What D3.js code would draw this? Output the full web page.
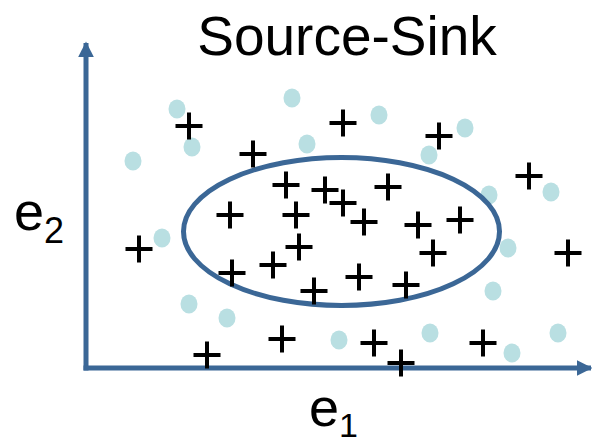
<!DOCTYPE html>
<html>
<head>
<meta charset="utf-8">
<script src="https://cdn.jsdelivr.net/npm/d3@7"></script>
<style>
  body { margin: 0; background: #fff; }
  svg { display: block; }
</style>
</head>
<body>
<svg id="drawing_region"></svg>
<script>
// sink points (+) in e1/e2 units
const sinkX = [20.6, 33.4, 51.4, 70.6, 88.6, 40, 47.8, 60.4, 51.4, 28.8, 42, 55.6, 66.4, 74.8,
               10.6, 42.6, 69.4, 96.4, 29.2, 37.4, 45.6, 54.6, 64, 39.2, 24.2, 57.6, 79.4, 63];
const sinkY = [48.4, 42.8, 49, 46.4, 38.4, 36.6, 35.6, 36.2, 33, 30.6, 30.6, 29.2, 28.6, 29.6,
               23.8, 24.2, 23, 23, 19, 20.6, 15.4, 18.2, 16.6, 5.8, 2.6, 5, 5, 1];
// source points (dots)
const sourceX = [18.2, 21.2, 9.4, 41.2, 44.2, 58.6, 75.8, 68.6, 93, 80.6, 15.2, 20.6, 28.2,
                 50.6, 84.4, 81.4, 68.8, 85.2, 94.4];
const sourceY = [51.8, 44.2, 41.4, 54, 44.8, 50.6, 48, 42.6, 35.2, 34.6, 26, 12.8, 10,
                 5.6, 24, 15.4, 7, 3, 7];
// ellipse: center and radii
const ellipseCenter = [51.1, 27.3];
const ellipseRadii = [31.6, 14.8];

const title = "Source-Sink";

const config = {
    width: 592,
    height: 445,
    axisColor: '#3b6796',
    dotColor: '#b9dfe2'
};

const svg = d3.select('#drawing_region')
    .attr('width', config.width)
    .attr('height', config.height);

const xscale = d3.scaleLinear().domain([0, 100]).range([86, 586]);
const yscale = d3.scaleLinear().domain([0, 65]).range([368, 43]);

// arrow head
svg.append('defs').append('marker')
    .attr('id', 'arrow')
    .attr('viewBox', '0 0 10 10')
    .attr('refX', 9).attr('refY', 5)
    .attr('markerWidth', 3.2).attr('markerHeight', 3.4)
    .attr('markerUnits', 'strokeWidth')
    .attr('orient', 'auto')
    .append('path')
    .attr('d', 'M0,0 L10,5 L0,10 Z')
    .attr('fill', config.axisColor);

// axes
svg.append('line')
    .attr('x1', xscale(0)).attr('y1', yscale(0) + 2.5)
    .attr('x2', xscale(0)).attr('y2', yscale(65))
    .attr('stroke', config.axisColor).attr('stroke-width', 5)
    .attr('marker-end', 'url(#arrow)');

svg.append('line')
    .attr('x1', xscale(0) - 2.5).attr('y1', yscale(0))
    .attr('x2', xscale(100) + 5).attr('y2', yscale(0))
    .attr('stroke', config.axisColor).attr('stroke-width', 5)
    .attr('marker-end', 'url(#arrow)');

// source dots
svg.append('g').selectAll('ellipse')
    .data(d3.range(sourceX.length))
    .enter()
    .append('ellipse')
    .attr('cx', i => xscale(sourceX[i]))
    .attr('cy', i => yscale(sourceY[i]))
    .attr('rx', 8.5)
    .attr('ry', 9.5)
    .attr('fill', config.dotColor);

// sink region
svg.append('ellipse')
    .attr('cx', xscale(ellipseCenter[0]))
    .attr('cy', yscale(ellipseCenter[1]))
    .attr('rx', xscale(ellipseRadii[0]) - xscale(0))
    .attr('ry', yscale(0) - yscale(ellipseRadii[1]))
    .attr('fill', 'none')
    .attr('stroke', config.axisColor)
    .attr('stroke-width', 5);

// sink plus marks
const half = 13.5;
svg.append('g').selectAll('path')
    .data(d3.range(sinkX.length))
    .enter()
    .append('path')
    .attr('d', i => {
        const cx = xscale(sinkX[i]), cy = yscale(sinkY[i]);
        return `M${cx - half},${cy} H${cx + half} M${cx},${cy - half} V${cy + half}`;
    })
    .attr('stroke', 'black')
    .attr('stroke-width', 4)
    .attr('fill', 'none');

// texts
const font = '"Liberation Sans", Arial, sans-serif';
svg.append('text')
    .attr('x', 347).attr('y', 55)
    .attr('text-anchor', 'middle')
    .attr('font-family', font)
    .attr('font-size', 55)
    .attr('fill', 'black')
    .text(title);

const e2 = svg.append('text')
    .attr('x', 14).attr('y', 230)
    .attr('font-family', font)
    .attr('font-size', 54)
    .attr('fill', 'black');
e2.append('tspan').text('e');
e2.append('tspan').attr('font-size', 36).attr('dy', 13).text('2');

const e1 = svg.append('text')
    .attr('x', 309).attr('y', 426)
    .attr('font-family', font)
    .attr('font-size', 54)
    .attr('fill', 'black');
e1.append('tspan').text('e');
e1.append('tspan').attr('font-size', 34).attr('dy', 11).text('1');
</script>
</body>
</html>
